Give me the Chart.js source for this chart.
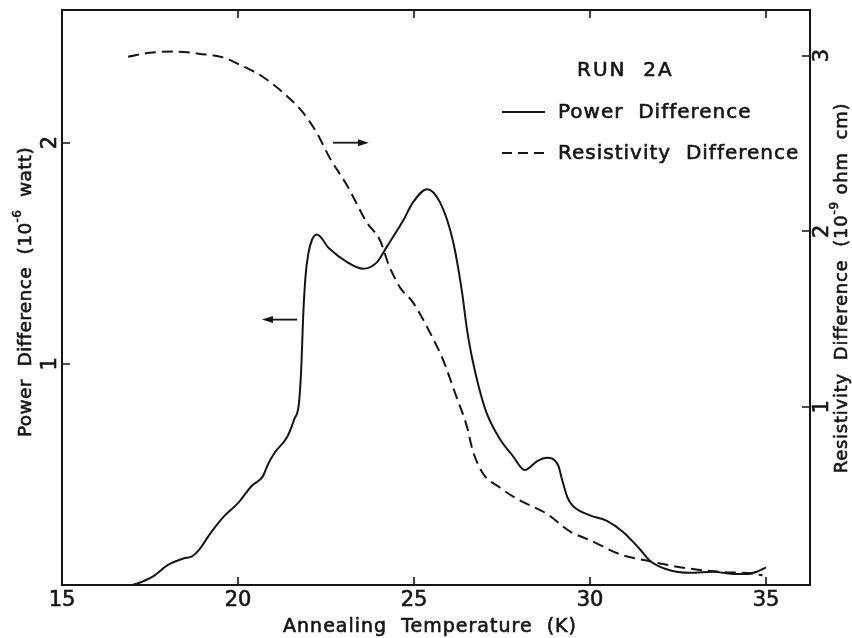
<!DOCTYPE html>
<html>
<head>
<meta charset="utf-8">
<script src="https://cdn.jsdelivr.net/npm/chart.js@4/dist/chart.umd.min.js"></script>
<style>
  html, body { margin: 0; padding: 0; background: #fff; }
  #wrap { width: 852px; height: 638px; }
</style>
</head>
<body>
<div id="wrap"><canvas id="c" width="852" height="638"></canvas></div>
<script>
// annealing temperature (K) and power difference (1e-6 watt), solid curve
const powerTemps = [17.0, 17.2, 17.6, 18.0, 18.45, 18.7, 18.9, 19.2, 19.6, 20.0, 20.4, 20.7, 20.85, 21.05, 21.4, 21.6, 21.73, 21.8, 21.85, 21.92, 22.0, 22.1, 22.24, 22.6, 23.1, 23.55, 23.95, 24.23, 24.7, 24.97, 25.37, 25.74, 26.1, 26.35, 26.52, 26.66, 26.85, 27.07, 27.44, 27.8, 28.15, 28.5, 28.78, 29.1, 29.2, 29.35, 29.5, 30.0, 30.48, 30.94, 31.4, 31.7, 32.2, 32.84, 33.5, 34.06, 34.46, 34.74, 35.0];
const powerValues = [0, 0.01, 0.04, 0.09, 0.12, 0.13, 0.16, 0.23, 0.31, 0.37, 0.45, 0.49, 0.545, 0.60, 0.67, 0.75, 0.82, 0.99, 1.21, 1.40, 1.50, 1.56, 1.585, 1.52, 1.46, 1.43, 1.46, 1.53, 1.65, 1.73, 1.79, 1.73, 1.56, 1.34, 1.14, 1.02, 0.89, 0.775, 0.66, 0.585, 0.52, 0.56, 0.575, 0.54, 0.48, 0.40, 0.36, 0.315, 0.29, 0.24, 0.165, 0.11, 0.07, 0.055, 0.06, 0.05, 0.05, 0.06, 0.08];

// resistivity difference (1e-9 ohm cm), dashed curve
const resistTemps = [16.88, 17.5, 18.27, 18.92, 19.57, 20.14, 20.7, 21.28, 21.85, 22.24, 22.6, 23.1, 23.66, 24.03, 24.3, 24.6, 24.97, 25.46, 25.82, 26.2, 26.5, 26.67, 26.96, 27.44, 27.93, 28.78, 29.43, 30.0, 30.85, 31.7, 32.76, 33.7, 34.63, 34.9];
const resistValues = [2.994, 3.017, 3.023, 3.01, 2.99, 2.94, 2.88, 2.79, 2.675, 2.56, 2.42, 2.26, 2.05, 1.95, 1.80, 1.68, 1.595, 1.42, 1.27, 1.06, 0.89, 0.75, 0.62, 0.54, 0.475, 0.39, 0.29, 0.24, 0.16, 0.12, 0.08, 0.06, 0.05, 0.04];

const xTicks = [15, 20, 25, 30, 35];
const powerTicks = [1, 2];
const resistTicks = [1, 2, 3];

const INK = "#141414";
const FONT = "DejaVu Sans";

const pts = (xs, ys) => xs.map((x, i) => ({ x, y: ys[i] }));

// fill + thin stroke to get the heavier lettering of the original
function ink(ctx, t, x, y) {
  ctx.fillText(t, x, y);
  ctx.strokeText(t, x, y);
}

function richWidth(ctx, parts, size) {
  let w = 0;
  parts.forEach(p => {
    ctx.font = (p.sup ? Math.round(size * 0.65) : size) + "px '" + FONT + "'";
    w += ctx.measureText(p.t).width;
  });
  return w;
}

// text drawn rotated -90deg (reads bottom to top), centred on cx, cy
function drawRotated(ctx, parts, cx, cy, size, spacing) {
  ctx.save();
  ctx.translate(cx, cy);
  ctx.rotate(-Math.PI / 2);
  ctx.letterSpacing = spacing + "px";
  ctx.fillStyle = INK;
  ctx.strokeStyle = INK;
  ctx.lineWidth = 0.6;
  ctx.setLineDash([]);
  ctx.textBaseline = "middle";
  ctx.textAlign = "left";
  let x = -richWidth(ctx, parts, size) / 2;
  parts.forEach(p => {
    const s = p.sup ? Math.round(size * 0.65) : size;
    ctx.font = s + "px '" + FONT + "'";
    ink(ctx, p.t, x, p.sup ? -size * 0.42 : 0);
    x += ctx.measureText(p.t).width;
  });
  ctx.restore();
}

function arrow(ctx, x1, y, x2) {
  const dir = Math.sign(x2 - x1);
  ctx.beginPath();
  ctx.moveTo(x1, y);
  ctx.lineTo(x2 - dir * 6, y);
  ctx.stroke();
  ctx.beginPath();
  ctx.moveTo(x2, y);
  ctx.lineTo(x2 - dir * 11, y - 3.5);
  ctx.lineTo(x2 - dir * 11, y + 3.5);
  ctx.closePath();
  ctx.fill();
}

const decor = {
  id: "decor",
  afterDraw(chart) {
    const { ctx, chartArea: a, scales } = chart;
    const sx = scales.x, sy = scales.y, sr = scales.y1;
    ctx.save();
    ctx.strokeStyle = INK;
    ctx.fillStyle = INK;
    ctx.lineWidth = 2;
    ctx.setLineDash([]);
    ctx.strokeRect(a.left, a.top, a.right - a.left, a.bottom - a.top);

    // inward ticks
    ctx.lineWidth = 1.6;
    ctx.beginPath();
    xTicks.forEach(v => {
      const px = Math.round(sx.getPixelForValue(v));
      ctx.moveTo(px, a.bottom); ctx.lineTo(px, a.bottom - 8);
      ctx.moveTo(px, a.top); ctx.lineTo(px, a.top + 8);
    });
    powerTicks.forEach(v => {
      const py = Math.round(sy.getPixelForValue(v));
      ctx.moveTo(a.left, py); ctx.lineTo(a.left + 8, py);
    });
    resistTicks.forEach(v => {
      const py = Math.round(sr.getPixelForValue(v));
      ctx.moveTo(a.right, py); ctx.lineTo(a.right - 8, py);
    });
    ctx.stroke();

    // x tick labels
    ctx.lineWidth = 0.6;
    ctx.font = "21px '" + FONT + "'";
    ctx.textAlign = "center";
    ctx.textBaseline = "middle";
    ctx.letterSpacing = "0px";
    xTicks.forEach(v => ink(ctx, String(v), sx.getPixelForValue(v), a.bottom + 16));

    // rotated y tick labels
    powerTicks.forEach(v => drawRotated(ctx, [{ t: String(v) }], a.left - 11, sy.getPixelForValue(v), 21, 0));
    resistTicks.forEach(v => drawRotated(ctx, [{ t: String(v) }], a.right + 13, sr.getPixelForValue(v), 21, 0));

    // axis titles
    drawRotated(ctx, [{ t: "Power  Difference  (10" }, { t: "-6", sup: true }, { t: "  watt)" }], 26, 292, 18.5, 0.4);
    drawRotated(ctx, [{ t: "Resistivity  Difference  (10" }, { t: "-9", sup: true }, { t: " ohm  cm)" }], 842, 288, 18, 0.75);

    ctx.lineWidth = 0.6;
    ctx.font = "19px '" + FONT + "'";
    ctx.letterSpacing = "1px";
    ctx.textAlign = "center";
    ctx.textBaseline = "middle";
    ink(ctx, "Annealing  Temperature  (K)", 430, 627);

    // legend
    ctx.textAlign = "left";
    ctx.font = "20px '" + FONT + "'";
    ctx.letterSpacing = "2px";
    ink(ctx, "RUN  2A", 577, 71);
    ctx.letterSpacing = "1px";
    ink(ctx, "Power  Difference", 558, 113);
    ink(ctx, "Resistivity  Difference", 558, 154);
    ctx.letterSpacing = "0px";
    ctx.lineWidth = 2;
    ctx.beginPath();
    ctx.moveTo(502, 112); ctx.lineTo(545, 112);
    ctx.stroke();
    ctx.setLineDash([10, 6]);
    ctx.beginPath();
    ctx.moveTo(502, 153); ctx.lineTo(546, 153);
    ctx.stroke();
    ctx.setLineDash([]);

    // arrows pointing to each curve's axis
    ctx.lineWidth = 1.8;
    arrow(ctx, sx.getPixelForValue(22.7), sy.getPixelForValue(2.0), sx.getPixelForValue(23.72));
    arrow(ctx, sx.getPixelForValue(21.68), sy.getPixelForValue(1.2), sx.getPixelForValue(20.68));
    ctx.restore();
  }
};

new Chart(document.getElementById("c"), {
  type: "line",
  data: {
    datasets: [
      {
        label: "Power Difference",
        data: pts(powerTemps, powerValues),
        yAxisID: "y",
        borderColor: INK,
        borderWidth: 2,
        pointRadius: 0,
        cubicInterpolationMode: "monotone",
        fill: false
      },
      {
        label: "Resistivity Difference",
        data: pts(resistTemps, resistValues),
        yAxisID: "y1",
        borderColor: INK,
        borderWidth: 2,
        borderDash: [11, 6],
        pointRadius: 0,
        cubicInterpolationMode: "monotone",
        fill: false
      }
    ]
  },
  options: {
    responsive: false,
    animation: false,
    events: [],
    layout: { padding: { top: 10, left: 0, right: 0, bottom: 0 } },
    plugins: { legend: { display: false }, tooltip: { enabled: false } },
    scales: {
      x: {
        type: "linear",
        position: "bottom",
        min: 15,
        max: 36.25,
        grid: { display: false },
        border: { display: false },
        ticks: { display: false },
        afterBuildTicks: s => { s.ticks = xTicks.map(v => ({ value: v })); },
        afterFit: s => { s.height = 53; }
      },
      y: {
        type: "linear",
        position: "left",
        min: 0,
        max: 2.6,
        grid: { display: false },
        border: { display: false },
        ticks: { display: false },
        afterFit: s => { s.width = 62; }
      },
      y1: {
        type: "linear",
        position: "right",
        min: -0.015,
        max: 3.26,
        grid: { display: false },
        border: { display: false },
        ticks: { display: false },
        afterFit: s => { s.width = 42; }
      }
    }
  },
  plugins: [decor]
});
</script>
</body>
</html>
